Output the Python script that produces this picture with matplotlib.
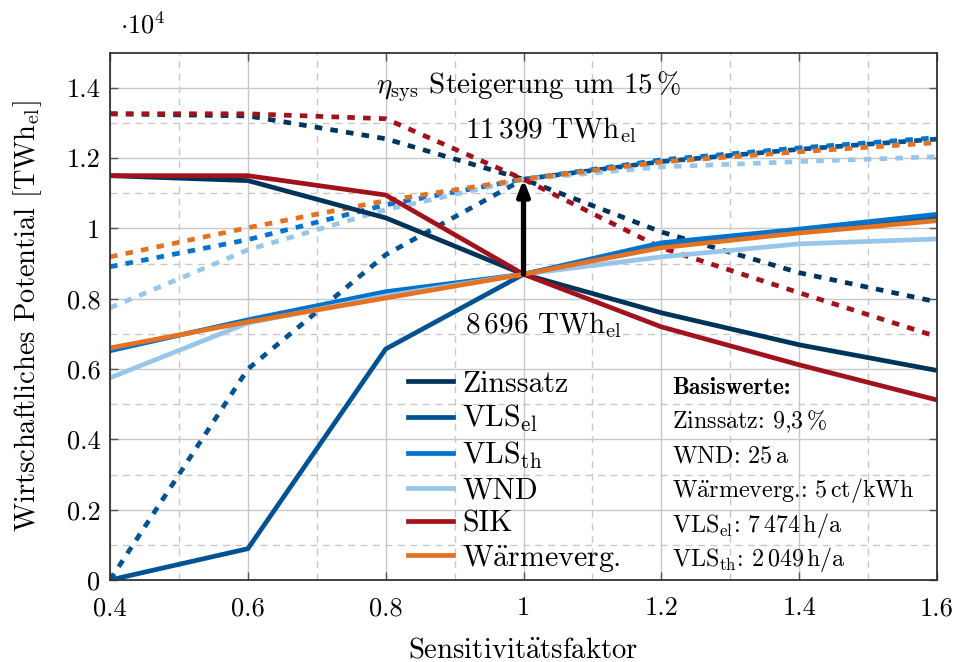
import numpy as np
import matplotlib
matplotlib.use('Agg')
import matplotlib.pyplot as plt
from matplotlib.lines import Line2D

plt.rcParams['font.family'] = ['cmr10', 'DejaVu Serif']
plt.rcParams['mathtext.fontset'] = 'cm'
plt.rcParams['axes.unicode_minus'] = False

# Sensitivitätsfaktor
faktor = [0.4, 0.6, 0.8, 1.0, 1.2, 1.4, 1.6]

# Basisfall (durchgezogen), TWh_el
zinssatz = [11500, 11360, 10300, 8696, 7600, 6690, 5960]
vls_el = [0, 890, 6570, 8696, 9520, 9930, 10330]
vls_th = [6520, 7400, 8200, 8696, 9590, 9980, 10400]
wnd = [5750, 7310, 8080, 8696, 9190, 9560, 9700]
sik = [11500, 11500, 10950, 8696, 7200, 6120, 5120]
waerme = [6600, 7340, 8020, 8696, 9450, 9870, 10220]

# eta_sys + 15 % (gestrichelt)
zinssatz_eta = [13260, 13200, 12550, 11399, 9900, 8740, 7910]
vls_el_eta = [0, 6000, 9250, 11399, 11900, 12250, 12540]
vls_th_eta = [8910, 9680, 10670, 11399, 11950, 12290, 12580]
wnd_eta = [7740, 9390, 10530, 11399, 11750, 11900, 12040]
sik_eta = [13260, 13260, 13120, 11399, 9450, 8170, 6920]
waerme_eta = [9190, 10020, 10790, 11399, 11890, 12180, 12440]

AE = r'$\ddot{\mathrm{a}}$'
namen = ['Zinssatz', r'VLS$_{\mathrm{el}}$', r'VLS$_{\mathrm{th}}$', 'WND', 'SIK', 'W' + AE + 'rmeverg.']
farben = ['#003359', '#005293', '#0073CF', '#98C6EA', '#A2121C', '#E37222']
basis = [zinssatz, vls_el, vls_th, wnd, sik, waerme]
eta = [zinssatz_eta, vls_el_eta, vls_th_eta, wnd_eta, sik_eta, waerme_eta]

xticks = [0.4, 0.6, 0.8, 1.0, 1.2, 1.4, 1.6]
xticklabels = ['0.4', '0.6', '0.8', '1', '1.2', '1.4', '1.6']
yticks = [0, 2000, 4000, 6000, 8000, 10000, 12000, 14000]
yticklabels = ['0', '0.2', '0.4', '0.6', '0.8', '1', '1.2', '1.4']

fig = plt.figure(figsize=(9.56, 6.62), dpi=100)
ax = fig.add_axes([0.1151, 0.1239, 0.8650, 0.7966])

lw = 3.4
for y, y2, c in zip(basis, eta, farben):
    ax.plot(faktor, y2, color=c, lw=lw, dashes=(1.6, 1.75), dash_capstyle='butt',
            solid_joinstyle='miter')
for y, c in zip(basis, farben):
    ax.plot(faktor, y, color=c, lw=lw, solid_joinstyle='miter')

ax.set_xlim(0.4, 1.6)
ax.set_ylim(0, 15000)
ax.set_xticks(xticks)
ax.set_xticklabels(xticklabels)
ax.set_yticks(yticks)
ax.set_yticklabels(yticklabels)
ax.set_xticks(np.arange(0.5, 1.6, 0.2), minor=True)
ax.set_yticks(np.arange(1000, 15000, 2000), minor=True)
ax.tick_params(which='major', direction='in', length=6, width=1, color='#555555',
               top=True, right=True, labelsize=19)
ax.tick_params(axis='x', pad=12)
ax.tick_params(axis='y', pad=7)
ax.tick_params(which='minor', length=0)
ax.grid(which='major', color='#c8c8c8', lw=1.0)
ax.grid(which='minor', color='#c8c8c8', lw=1.0, ls=(0, (5, 4)))
ax.set_axisbelow(True)
for s in ax.spines.values():
    s.set_color('#333333')
    s.set_linewidth(1.3)

ax.set_xlabel('Sensitivit' + AE + 'tsfaktor', fontsize=20.7, labelpad=12)
ax.set_ylabel(r'Wirtschaftliches Potential [TWh$_{\mathrm{el}}$]', fontsize=20.5, labelpad=16)
ax.text(0.012, 1.052, r'$\cdot 10^4$', transform=ax.transAxes, fontsize=19,
        ha='left', va='center')

# Pfeil und Beschriftung
ax.annotate('', xy=(1.0, 11399), xytext=(1.0, 8696),
            arrowprops=dict(arrowstyle='-|>,head_length=0.9,head_width=0.35',
                            color='black', lw=3.8, shrinkA=0, shrinkB=0))
ax.text(1.008, 14030, r'$\eta_{\mathrm{sys}}$ Steigerung um 15$\,$%', fontsize=21,
        ha='center', va='center')
ax.text(0.915, 12806, r'11$\,$399 TWh$_{\mathrm{el}}$', fontsize=21,
        ha='left', va='center')
ax.text(0.915, 7257, r'8$\,$696 TWh$_{\mathrm{el}}$', fontsize=21,
        ha='left', va='center')

handles = [Line2D([], [], color=c, lw=lw) for c in farben]
ax.legend(handles, namen, loc='upper left', bbox_to_anchor=(0.36, 0.398),
          frameon=False, fontsize=21.5, handlelength=1.5, handletextpad=0.33,
          labelspacing=0.19, borderpad=0, borderaxespad=0)

# Basiswerte
bx = 1.2155
ax.text(bx, 5464, 'Basiswerte:', fontsize=17, family=['cmb10', 'DejaVu Serif'],
        ha='left', va='center')
basis_texte = [r'Zinssatz: 9,3$\,$%', r'WND: 25$\,$a',
               r'W' + AE + r'rmeverg.: 5$\,$ct/kWh',
               r'VLS$_{\mathrm{el}}$: 7$\,$474$\,$h/a', r'VLS$_{\mathrm{th}}$: 2$\,$049$\,$h/a']
basis_y = [4496, 3500, 2533, 1537, 569]
for t, yy in zip(basis_texte, basis_y):
    ax.text(bx, yy, t, fontsize=17.3, ha='left', va='center')

fig.savefig('out.png', dpi=100)
